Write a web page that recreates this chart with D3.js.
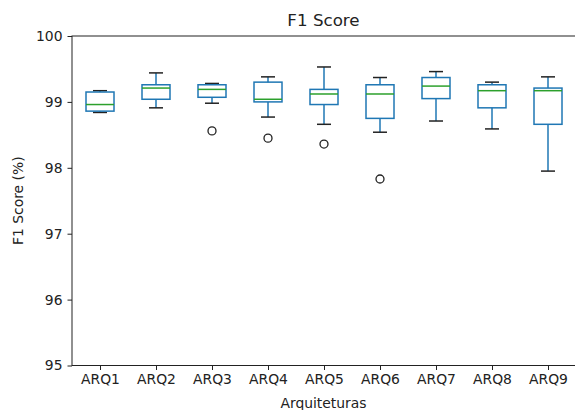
<!DOCTYPE html>
<html>
<head>
<meta charset="utf-8">
<script src="https://cdn.jsdelivr.net/npm/d3@7"></script>
<style>
    body { margin: 0; background: #fff; }
    svg text { font-family: "DejaVu Sans", sans-serif; fill: #222; }
</style>
</head>
<body>
<div id="chart"></div>
<script>
// valores (F1 score, %)
var categories = ["ARQ1", "ARQ2", "ARQ3", "ARQ4", "ARQ5", "ARQ6", "ARQ7", "ARQ8", "ARQ9"];
var whiskerLow = [98.84, 98.91, 98.98, 98.77, 98.66, 98.54, 98.71, 98.59, 97.95];
var q1 = [98.86, 99.04, 99.07, 99.00, 98.96, 98.75, 99.05, 98.91, 98.66];
var median = [98.96, 99.21, 99.19, 99.04, 99.12, 99.12, 99.24, 99.17, 99.17];
var q3 = [99.15, 99.26, 99.26, 99.30, 99.19, 99.26, 99.37, 99.26, 99.21];
var whiskerHigh = [99.17, 99.44, 99.28, 99.38, 99.53, 99.37, 99.46, 99.30, 99.38];
var outliers = [[], [], [98.56], [98.45], [98.36], [97.83], [], [], []];
var yTicks = [95, 96, 97, 98, 99, 100];

var margin = {top: 36, right: 0, bottom: 44, left: 72};
var w = 575 - margin.left - margin.right;
var h = 410 - margin.top - margin.bottom - 0.5;

var svg = d3.select("#chart").append("svg")
    .attr("width", 575)
    .attr("height", 410);

var g = svg.append("g")
    .attr("transform", "translate(" + margin.left + " " + margin.top + ")");

// posições 1..9 como no matplotlib, limites 0.5 - 9.5
var scaleX = d3.scaleLinear().domain([0.5, 9.5]).range([0, w + 1]);
var scaleY = d3.scaleLinear().domain([95, 100]).range([h, 0]);
var unit = scaleX(2) - scaleX(1);

var boxes = g.selectAll("g.box")
    .data(categories)
    .enter().append("g")
    .attr("class", "box");

boxes.each(function (c, i) {
    var b = d3.select(this);
    var cx = scaleX(i + 1);
    var bw = unit * 0.5;
    var cw = unit * 0.25;
    // bigodes
    b.append("line")
        .attr("x1", cx).attr("x2", cx)
        .attr("y1", scaleY(q3[i])).attr("y2", scaleY(whiskerHigh[i]))
        .attr("stroke", "#1f77b4").attr("stroke-width", 1.5);
    b.append("line")
        .attr("x1", cx).attr("x2", cx)
        .attr("y1", scaleY(q1[i])).attr("y2", scaleY(whiskerLow[i]))
        .attr("stroke", "#1f77b4").attr("stroke-width", 1.5);
    // caps
    [whiskerLow[i], whiskerHigh[i]].forEach(function (v) {
        b.append("line")
            .attr("x1", cx - cw / 2).attr("x2", cx + cw / 2)
            .attr("y1", scaleY(v)).attr("y2", scaleY(v))
            .attr("stroke", "#222").attr("stroke-width", 1.5);
    });
    // caixa
    b.append("rect")
        .attr("x", cx - bw / 2)
        .attr("y", scaleY(q3[i]))
        .attr("width", bw)
        .attr("height", scaleY(q1[i]) - scaleY(q3[i]))
        .attr("fill", "none")
        .attr("stroke", "#1f77b4").attr("stroke-width", 1.5);
    // mediana
    b.append("line")
        .attr("x1", cx - bw / 2).attr("x2", cx + bw / 2)
        .attr("y1", scaleY(median[i])).attr("y2", scaleY(median[i]))
        .attr("stroke", "#2ca02c").attr("stroke-width", 1.5);
    // outliers
    b.selectAll("circle")
        .data(outliers[i]).enter()
        .append("circle")
        .attr("cx", cx)
        .attr("cy", function (d) { return scaleY(d); })
        .attr("r", 4)
        .attr("fill", "none")
        .attr("stroke", "#222").attr("stroke-width", 1.3);
});

// eixos
var xAxis = d3.axisBottom(scaleX)
    .tickValues(d3.range(1, 10))
    .tickFormat(function (d) { return categories[d - 1]; })
    .tickSize(4.5).tickPadding(4).tickSizeOuter(0);
var yAxis = d3.axisLeft(scaleY)
    .tickValues(yTicks)
    .tickFormat(d3.format("d"))
    .tickSize(4.5).tickPadding(5).tickSizeOuter(0);

var xg = g.append("g")
    .attr("transform", "translate(0 " + h + ")")
    .call(xAxis);
var yg = g.append("g").call(yAxis);

[xg, yg].forEach(function (a) {
    a.selectAll("text").style("font-size", "13.9px").style("fill", "#222");
    a.selectAll("line").attr("stroke", "#222");
    a.select(".domain").remove();
});

// moldura
g.append("rect")
    .attr("x", 0).attr("y", 0)
    .attr("width", w + 0.5).attr("height", h)
    .attr("fill", "none")
    .attr("stroke", "#222").attr("stroke-width", 1);

// títulos
svg.append("text")
    .attr("x", margin.left + w / 2)
    .attr("y", 26)
    .attr("text-anchor", "middle")
    .style("font-size", "16.7px")
    .text("F1 Score");

svg.append("text")
    .attr("x", margin.left + w / 2)
    .attr("y", 408)
    .attr("text-anchor", "middle")
    .style("font-size", "13.9px")
    .text("Arquiteturas");

svg.append("text")
    .attr("transform", "translate(23 " + (margin.top + h / 2) + ") rotate(-90)")
    .attr("text-anchor", "middle")
    .style("font-size", "13.9px")
    .text("F1 Score (%)");
</script>
</body>
</html>
